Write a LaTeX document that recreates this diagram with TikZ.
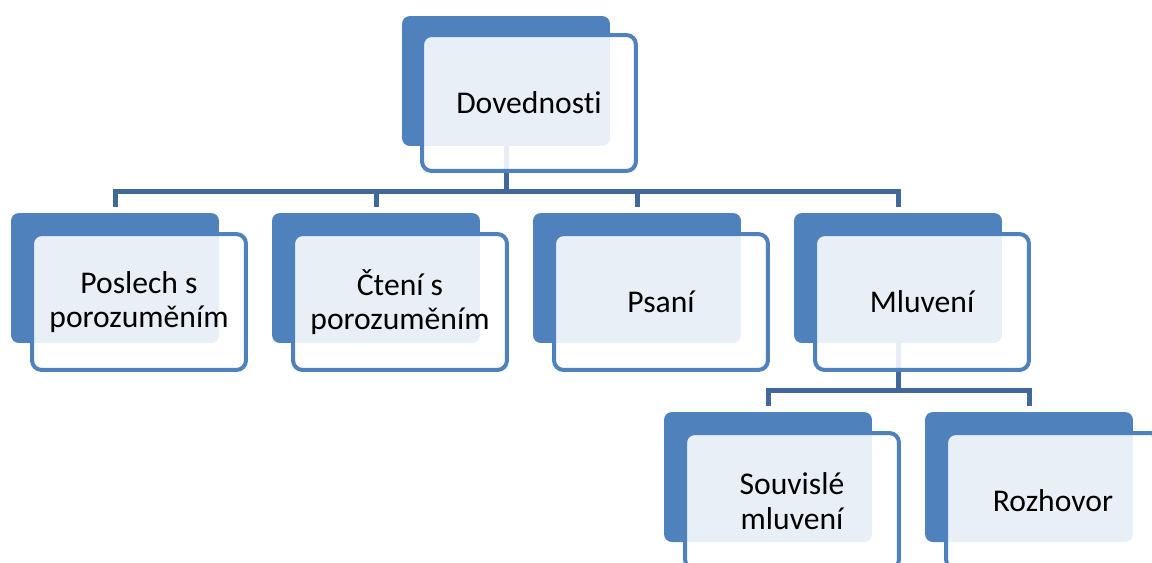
\documentclass[tikz,border=0pt]{standalone}
\usepackage{fontspec}
\setmainfont{Carlito}[Ligatures={NoCommon}]
\usetikzlibrary{positioning}
\definecolor{boxblue}{HTML}{4F81BD}
\definecolor{linkblue}{HTML}{41689B}
\tikzset{
  back/.style={rectangle, rounded corners=4.5pt, fill=boxblue, inner sep=0pt,
    minimum width=4.16cm, minimum height=2.6cm},
  front/.style={rectangle, rounded corners=5.5pt, draw=boxblue, line width=0.08cm,
    fill=white, fill opacity=0.88, text opacity=1, align=center,
    minimum width=4.28cm, minimum height=2.72cm,
    font=\fontsize{18}{19.8}\selectfont},
  link/.style={draw=linkblue, line width=0.1cm},
}

\begin{document}
\begin{tikzpicture}[x=0.02cm,y=-0.02cm]
   \useasboundingbox (0,0) rectangle (1152,562);
   \clip (0,0) rectangle (1152,562);
   \node[back] (dov) at (506,81) {};
   \node[back] (pos) at (115,278) {};
   \node[back] (cte) at (376,278) {};
   \node[back] (psa) at (637,278) {};
   \node[back] (mlu) at (898,278) {};
   \node[back] (sou) at (768,477) {};
   \node[back] (roz) at (1029,477) {};
   \coordinate (bus1) at (506,191);
   \coordinate (bus2) at (898,390);
   \draw[link] (dov.south) -- (bus1);
   \foreach \n in {pos,cte,psa,mlu}
      \draw[link,shorten >=0.12cm] (bus1) -| (\n.north);
   \draw[link] (mlu.south) -- (bus2);
   \foreach \n in {sou,roz}
      \draw[link,shorten >=0.12cm] (bus2) -| (\n.north);
   \node[front] (dovf) at ([shift={(23,22)}]dov) {Dovednosti};
   \node[front] (posf) at ([shift={(24,24)}]pos) {Poslech s\\porozuměním};
   \node[front] (ctef) at ([shift={(24,24)}]cte) {Čtení s\\porozuměním};
   \node[front] (psaf) at ([shift={(24,24)}]psa) {Psaní};
   \node[front] (mluf) at ([shift={(24,24)}]mlu) {Mluvení};
   \node[front] (souf) at ([shift={(24,24)}]sou) {Souvislé\\mluvení};
   \node[front] (rozf) at ([shift={(24,24)}]roz) {Rozhovor};
\end{tikzpicture}
\end{document}
